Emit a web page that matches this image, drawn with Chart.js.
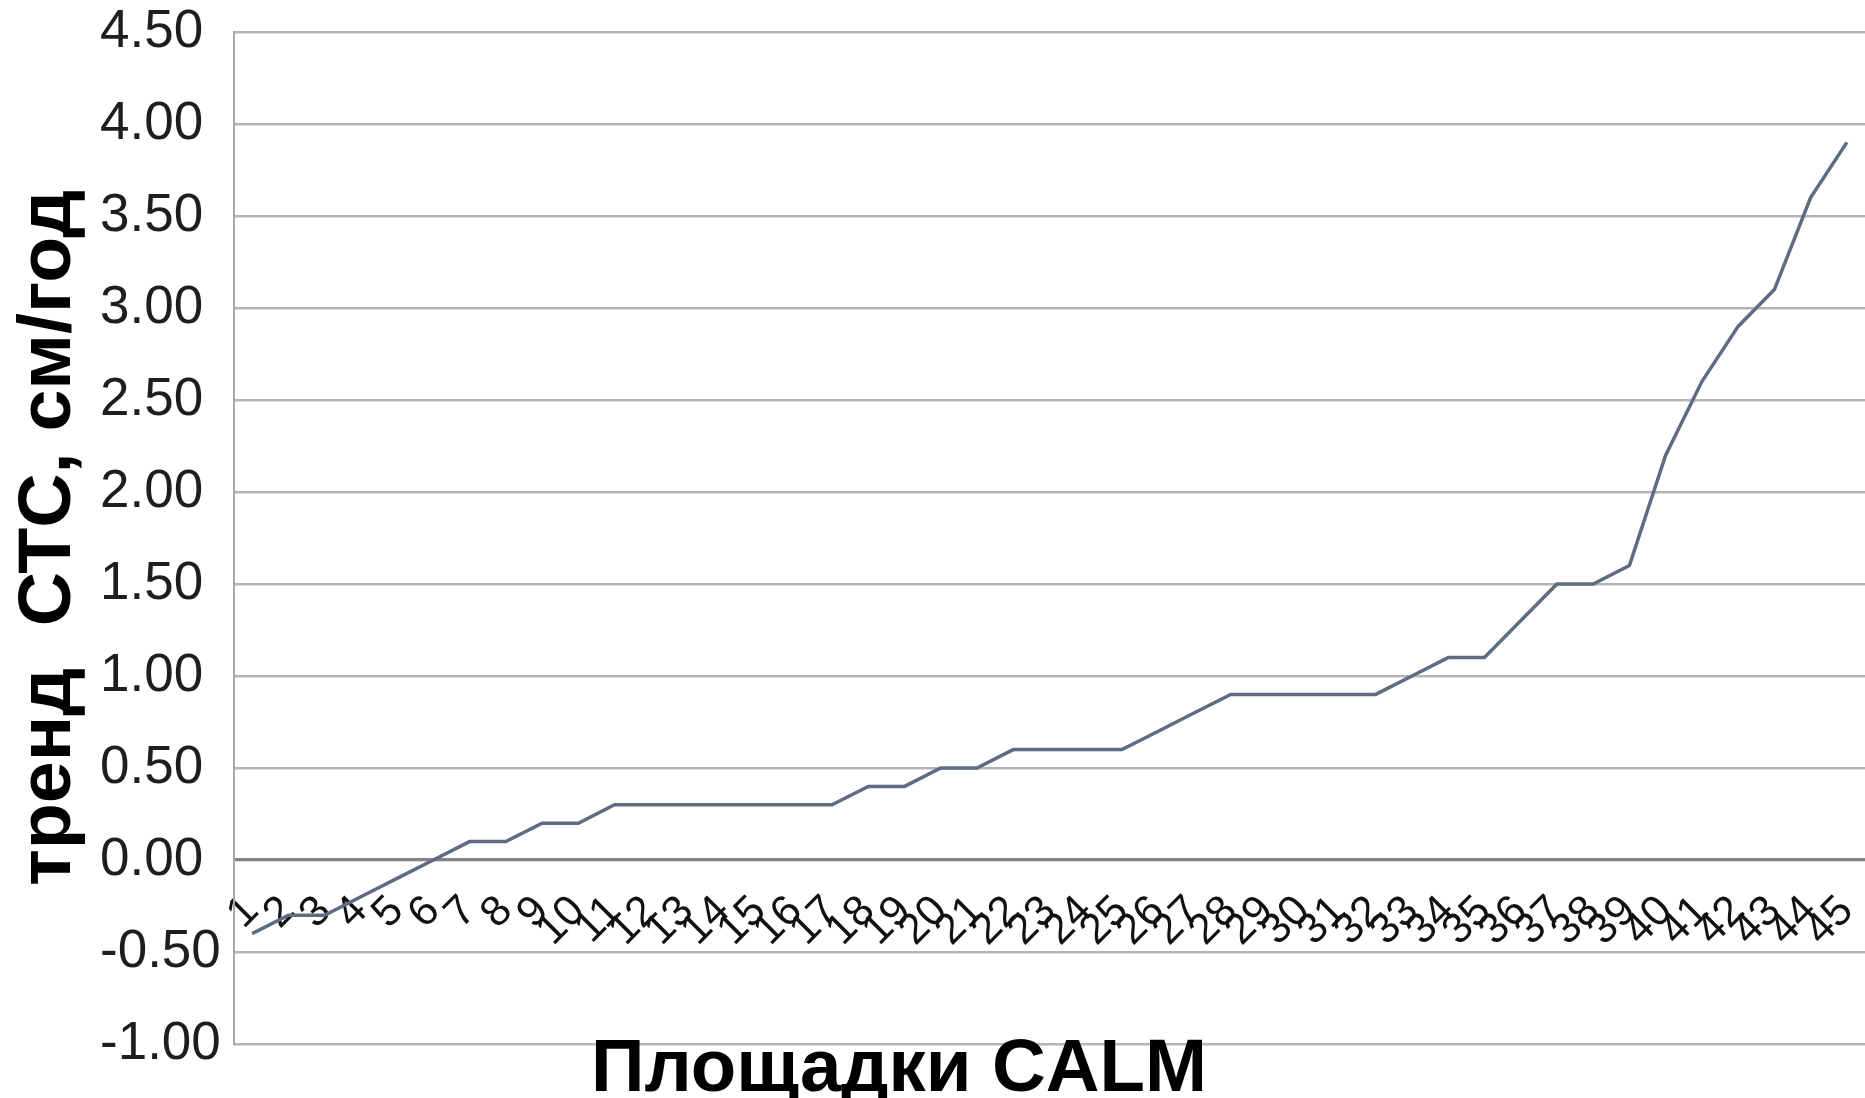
<!DOCTYPE html>
<html>
<head>
<meta charset="utf-8">
<title>Тренд СТС по площадкам CALM</title>
<script src="https://cdn.jsdelivr.net/npm/chart.js@4/dist/chart.umd.min.js"></script>
<style>
  html, body { margin: 0; padding: 0; background: #ffffff; overflow: hidden; }
  canvas { display: block; }
</style>
</head>
<body>
<canvas id="chart" width="1865" height="1098"></canvas>
<script>
// CALM site numbers along the x axis
const sites = ['1','2','3','4','5','6','7','8','9','10',
               '11','12','13','14','15','16','17','18','19','20',
               '21','22','23','24','25','26','27','28','29','30',
               '31','32','33','34','35','36','37','38','39','40',
               '41','42','43','44','45'];

// Active-layer thickness trend per site, cm/year (sorted ascending)
const trend = [-0.4, -0.3, -0.3, -0.2, -0.1, 0.0, 0.1, 0.1, 0.2, 0.2,
                0.3,  0.3,  0.3,  0.3,  0.3, 0.3, 0.3, 0.4, 0.4, 0.5,
                0.5,  0.6,  0.6,  0.6,  0.6, 0.7, 0.8, 0.9, 0.9, 0.9,
                0.9,  0.9,  1.0,  1.1,  1.1, 1.3, 1.5, 1.5, 1.6, 2.2,
                2.6,  2.9,  3.1,  3.6,  3.9];

// Value-axis tick positions
const yTickValues = [-1.0, -0.5, 0.0, 0.5, 1.0, 1.5, 2.0, 2.5, 3.0, 3.5, 4.0, 4.5];

const xTitle = 'Площадки CALM';
const yTitle = 'тренд  СТС, см/год';

const FONT = '"Liberation Sans", Arial, Helvetica, sans-serif';

// Bold axis titles, stretched to their fixed lengths
const axisTitles = {
  id: 'axisTitles',
  afterDraw(chart) {
    const ctx = chart.ctx;
    ctx.save();
    ctx.fillStyle = '#000000';
    ctx.textAlign = 'center';
    ctx.textBaseline = 'alphabetic';

    ctx.font = 'bold 75px ' + FONT;
    const wx = ctx.measureText(xTitle).width;
    ctx.save();
    ctx.translate(899, 1091);
    ctx.scale(616 / wx, 1);
    ctx.fillText(xTitle, 0, 0);
    ctx.restore();

    ctx.font = 'bold 74px ' + FONT;
    const wy = ctx.measureText(yTitle).width;
    ctx.save();
    ctx.translate(70, 538);
    ctx.rotate(-Math.PI / 2);
    ctx.scale(696 / wy, 1);
    ctx.fillText(yTitle, 0, 0);
    ctx.restore();

    ctx.restore();
  }
};

new Chart(document.getElementById('chart'), {
  type: 'line',
  data: {
    labels: sites,
    datasets: [{
      data: trend,
      borderColor: '#5d6c82',
      borderWidth: 3.5,
      pointRadius: 0,
      tension: 0,
      fill: false,
      clip: false
    }]
  },
  options: {
    responsive: false,
    animation: false,
    devicePixelRatio: 1,
    layout: { padding: { left: 100, right: 0, top: 32, bottom: 54 } },
    plugins: {
      legend: { display: false },
      tooltip: { enabled: false }
    },
    scales: {
      x: {
        type: 'category',
        position: { y: 0 },
        offset: true,
        grid: { display: false, drawTicks: false },
        border: { display: true, color: '#858585', width: 3 },
        ticks: {
          autoSkip: false,
          minRotation: 45,
          maxRotation: 45,
          padding: 26,
          color: '#111111',
          font: { family: FONT, size: 43 }
        },
        afterFit(scale) {
          // the axis sits inside the plot at y = 0: reserve no room for it
          scale.height = 0;
          scale.paddingLeft = 0;
          scale.paddingRight = 0;
        }
      },
      y: {
        min: -1,
        max: 4.5,
        afterBuildTicks(scale) {
          scale.ticks = yTickValues.map(v => ({ value: v }));
        },
        grid: { color: '#b5b5b5', lineWidth: 2.5, drawTicks: false },
        border: { display: true, color: '#a8a8a8', width: 2 },
        ticks: {
          crossAlign: 'far',
          padding: 0,
          color: '#1e1e1e',
          font: { family: FONT, size: 53 },
          callback: (value) => Number(value).toFixed(2)
        },
        afterFit(scale) { scale.width = 134; }
      }
    }
  },
  plugins: [axisTitles]
});
</script>
</body>
</html>
